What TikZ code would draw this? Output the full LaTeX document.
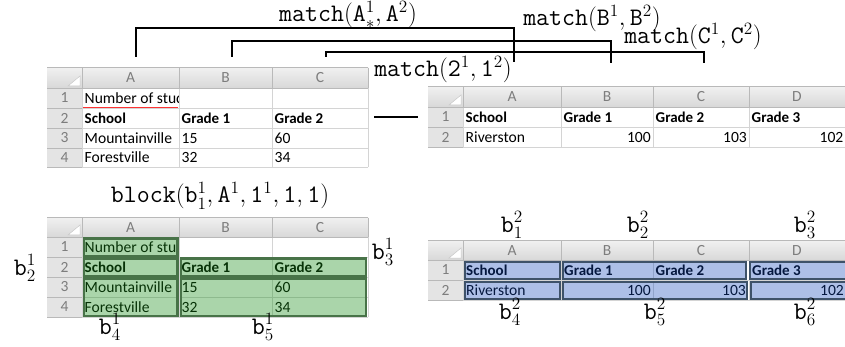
\documentclass[tikz,border=0pt]{standalone}
\usepackage{fontspec}
\newfontfamily\xlfont{Carlito}
\definecolor{hdrtop}{RGB}{240,240,240}
\definecolor{hdrbot}{RGB}{216,216,216}
\definecolor{rowcol}{RGB}{228,228,228}
\definecolor{hdrgrid}{RGB}{185,185,185}
\definecolor{cellgrid}{RGB}{212,212,212}
\definecolor{hdrtext}{RGB}{125,125,125}
\definecolor{gfill}{RGB}{20,140,20}
\definecolor{gline}{RGB}{72,115,72}
\definecolor{bfill}{RGB}{15,70,185}
\definecolor{bline}{RGB}{62,82,105}
\tikzset{
 cell/.style={font=\xlfont\fontsize{15.6}{18}\selectfont, inner sep=0pt, anchor=base west},
 cellb/.style={cell, font=\xlfont\bfseries\fontsize{15}{18}\selectfont},
 celln/.style={cell, anchor=base east},
 colhd/.style={font=\xlfont\fontsize{15.5}{18}\selectfont, text=hdrtext, inner sep=0pt, anchor=center},
 lbl/.style={font=\fontsize{21}{25}\selectfont, inner sep=0pt},
 conn/.style={draw=black, line width=1.1pt},
 gblock/.style={fill=gfill, fill opacity=0.36, draw=gline, line width=2.2pt},
 bblock/.style={fill=bfill, fill opacity=0.34, draw=bline, line width=2pt},
}
\newcommand\xllbl[1]{\scalebox{1.2}{$#1$}}
\newcommand\xlframe[8]{%
 \shade[top color=hdrtop,bottom color=hdrbot] (#1,#4) rectangle (#3,#5);
 \fill[rowcol] (#1,#5) rectangle (#2,#6);
 \foreach \xx in {#7} {\draw[cellgrid, line width=0.8pt] (\xx,#5) -- (\xx,#6); \draw[hdrgrid,line width=0.8pt] (\xx,#4) -- (\xx,#5);}
 \foreach \yy in {#8} {\draw[cellgrid, line width=0.8pt] (#2,\yy) -- (#3,\yy); \draw[hdrgrid,line width=0.8pt] (#1,\yy) -- (#2,\yy);}
 \draw[hdrgrid, line width=0.8pt] (#1,#5) -- (#3,#5);
 \draw[gray!55, line width=1pt] (#1,#4) -- (#3,#4);
 \filldraw[fill=white, draw=gray!45, line width=0.5pt] (#2,#5) ++(-14,-2) -- ++(12,0) -- ++(0,-10) -- cycle;
}
\begin{document}
\begin{tikzpicture}[x=1pt,y=-1pt]
\useasboundingbox (0,0) rectangle (845,347);
\fill[white] (0,0) rectangle (845,347);

% ---------- top-left sheet ----------
\xlframe{47}{82}{368}{68}{88}{167}{82,179,272,368}{108,128,148,167}
\node[colhd] (tlA) at (130.5,78) {A};
\node[colhd] (tlB) at (225.5,78) {B};
\node[colhd] (tlC) at (320,78) {C};
\node[colhd] (tl1) at (64.5,98) {1};
\node[colhd] (tl2) at (64.5,118) {2};
\node[colhd] (tl3) at (64.5,138) {3};
\node[colhd] (tl4) at (64.5,157.5) {4};
\begin{scope}
\clip (82,88) rectangle (178.5,108);
\node[cell] (tlA1) at (84.5,103.5) {Number of students};
\end{scope}
\draw[red!80!white, line width=0.8pt] (83,107.3) -- (178,107.3);
\node[cellb] (tlA2) at (84.5,123.5) {School};
\node[cellb] (tlB2) at (181.5,123.5) {Grade 1};
\node[cellb] (tlC2) at (274.5,123.5) {Grade 2};
\node[cell] (tlA3) at (84.5,143.5) {Mountainville};
\node[cell] (tlB3) at (181.5,143.5) {15};
\node[cell] (tlC3) at (274.5,143.5) {60};
\node[cell] (tlA4) at (84.5,162.5) {Forestville};
\node[cell] (tlB4) at (181.5,162.5) {32};
\node[cell] (tlC4) at (274.5,162.5) {34};

% ---------- top-right sheet ----------
\xlframe{428}{463}{845}{87}{107}{147}{463,561,653,749}{127,147}
\node[colhd] (trA) at (512,97) {A};
\node[colhd] (trB) at (607,97) {B};
\node[colhd] (trC) at (701,97) {C};
\node[colhd] (trD) at (797,97) {D};
\node[colhd] (tr1) at (445.5,117) {1};
\node[colhd] (tr2) at (445.5,137) {2};
\node[cellb] (trA1) at (465.5,122.5) {School};
\node[cellb] (trB1) at (563.5,122.5) {Grade 1};
\node[cellb] (trC1) at (655.5,122.5) {Grade 2};
\node[cellb] (trD1) at (751.5,122.5) {Grade 3};
\node[cell] (trA2) at (465.5,142.5) {Riverston};
\node[celln] (trB2) at (651,142.5) {100};
\node[celln] (trC2) at (747,142.5) {103};
\node[celln] (trD2) at (843.5,142.5) {102};

% ---------- bottom-left sheet ----------
\xlframe{47}{82}{368}{218}{237}{317}{82,179,272,368}{257,277,297,317}
\node[colhd] (blA) at (130.5,227.5) {A};
\node[colhd] (blB) at (225.5,227.5) {B};
\node[colhd] (blC) at (320,227.5) {C};
\node[colhd] (bl1) at (64.5,247) {1};
\node[colhd] (bl2) at (64.5,267) {2};
\node[colhd] (bl3) at (64.5,287) {3};
\node[colhd] (bl4) at (64.5,307) {4};
\begin{scope}
\clip (82,237) rectangle (178.5,257);
\node[cell] (blA1) at (84.5,252.5) {Number of students};
\end{scope}
\node[cellb] (blA2) at (84.5,272.5) {School};
\node[cellb] (blB2) at (181.5,272.5) {Grade 1};
\node[cellb] (blC2) at (274.5,272.5) {Grade 2};
\node[cell] (blA3) at (84.5,292.5) {Mountainville};
\node[cell] (blB3) at (181.5,292.5) {15};
\node[cell] (blC3) at (274.5,292.5) {60};
\node[cell] (blA4) at (84.5,312.5) {Forestville};
\node[cell] (blB4) at (181.5,312.5) {32};
\node[cell] (blC4) at (274.5,312.5) {34};
\path[gblock] (84,238.5) rectangle (177.5,256);
\path[gblock] (84,258.5) rectangle (177.5,276);
\path[gblock] (181,258.5) rectangle (366,276);
\path[gblock] (84,278.5) rectangle (177.5,316);
\path[gblock] (181,278.5) rectangle (366,316);

% ---------- bottom-right sheet ----------
\xlframe{428}{463}{845}{241}{260}{300}{463,561,653,749}{280,300}
\node[colhd] (brA) at (512,250.5) {A};
\node[colhd] (brB) at (607,250.5) {B};
\node[colhd] (brC) at (701,250.5) {C};
\node[colhd] (brD) at (797,250.5) {D};
\node[colhd] (br1) at (445.5,270) {1};
\node[colhd] (br2) at (445.5,290) {2};
\node[cellb] (brA1) at (466,275.5) {School};
\node[cellb] (brB1) at (564,275.5) {Grade 1};
\node[cellb] (brC1) at (655.5,275.5) {Grade 2};
\node[cellb] (brD1) at (752,275.5) {Grade 3};
\node[cell] (brA2) at (466,295.5) {Riverston};
\node[celln] (brB2) at (651,295.5) {100};
\node[celln] (brC2) at (746,295.5) {103};
\node[celln] (brD2) at (844,295.5) {102};
\path[bblock] (464.5,261.5) rectangle (559.5,279);
\path[bblock] (563,261.5) rectangle (746,279);
\path[bblock] (750,261.5) rectangle (848,279);
\path[bblock] (464.5,281.5) rectangle (559.5,299);
\path[bblock] (563,281.5) rectangle (747,299);
\path[bblock] (750.5,281.5) rectangle (848,299);

% ---------- labels ----------
\node[lbl] (mA) at (348,15) {\xllbl{\mathtt{match}(\mathtt{A}^1_*,\mathtt{A}^2)}};
\node[lbl] (mB) at (592,19) {\xllbl{\mathtt{match}(\mathtt{B}^1,\mathtt{B}^2)}};
\node[lbl] (mC) at (693,37) {\xllbl{\mathtt{match}(\mathtt{C}^1,\mathtt{C}^2)}};
\node[lbl] (m21) at (443,70) {\xllbl{\mathtt{match}(\mathtt{2}^1,\mathtt{1}^2)}};
\node[lbl] (blk) at (220,196) {\xllbl{\mathtt{block}(\mathtt{b}^1_1,\mathtt{A}^1,\mathtt{1}^1,\mathtt{1},\mathtt{1})}};
\node[lbl] (b12) at (25,268) {\xllbl{\mathtt{b}^1_2}};
\node[lbl] (b13) at (383,252) {\xllbl{\mathtt{b}^1_3}};
\node[lbl] (b14) at (110,327) {\xllbl{\mathtt{b}^1_4}};
\node[lbl] (b15) at (263,327) {\xllbl{\mathtt{b}^1_5}};
\node[lbl] (b21) at (512,225) {\xllbl{\mathtt{b}^2_1}};
\node[lbl] (b22) at (638,225) {\xllbl{\mathtt{b}^2_2}};
\node[lbl] (b23) at (805,225) {\xllbl{\mathtt{b}^2_3}};
\node[lbl] (b24) at (510,312) {\xllbl{\mathtt{b}^2_4}};
\node[lbl] (b25) at (655,312) {\xllbl{\mathtt{b}^2_5}};
\node[lbl] (b26) at (805,312) {\xllbl{\mathtt{b}^2_6}};

% ---------- connectors ----------
\coordinate (c1s) at (136,57);
\coordinate (c1k) at (300,28);
\coordinate (c1e) at (514,62);
\coordinate (c2s) at (232,57);
\coordinate (c2k) at (400,41);
\coordinate (c2e) at (611,63);
\coordinate (c3s) at (326,57);
\coordinate (c3k) at (500,52);
\coordinate (c3e) at (704,63);
\coordinate (hs) at (374,117);
\coordinate (he) at (418,117);
\draw[conn] (c1s) |- (c1k) -| (c1e);
\draw[conn] (c2s) |- (c2k) -| (c2e);
\draw[conn] (c3s) |- (c3k) -| (c3e);
\draw[conn] (hs) -- (he);
\end{tikzpicture}
\end{document}
